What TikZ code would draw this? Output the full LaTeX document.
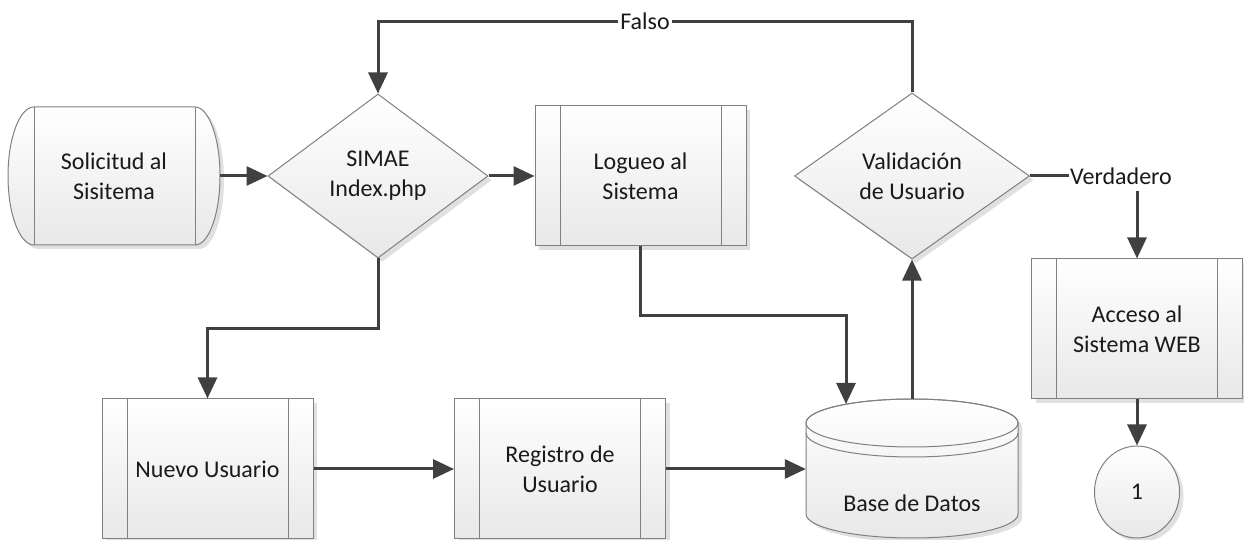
\documentclass[tikz,border=0pt]{standalone}
\usepackage{fontspec}
\setmainfont{Carlito}
\usetikzlibrary{arrows.meta,shapes.geometric,shadows}

\definecolor{linea}{HTML}{808080}
\definecolor{conector}{HTML}{404040}
\definecolor{texto}{HTML}{1A1A1A}

\begin{document}
\begin{tikzpicture}[x=1pt, y=1pt, >={Triangle[length=21pt,width=19pt]},
                    font=\fontsize{24}{30}\selectfont]
  \tikzstyle{figura}=[draw=linea, line width=1pt, top color=white, bottom color=black!9,
                      drop shadow={shadow xshift=4pt, shadow yshift=-4pt, fill=black!12, opacity=1},
                      text=texto, align=center, inner sep=0pt]
  \tikzstyle{proceso}=[figura, rectangle, minimum width=211pt, minimum height=140pt,
      path picture={\draw[linea, line width=1pt]
        ([xshift=25pt]path picture bounding box.north west) -- ([xshift=25pt]path picture bounding box.south west)
        ([xshift=-25pt]path picture bounding box.north east) -- ([xshift=-25pt]path picture bounding box.south east);}]
  \tikzstyle{decision}=[figura, diamond, aspect=1.35, minimum width=220pt, minimum height=164pt]
  \tikzstyle{flecha}=[->, color=conector, line width=3pt]
  \tikzstyle{etiqueta}=[fill=white, text=texto, inner xsep=2pt, inner ysep=2pt]

  \useasboundingbox (0,0) rectangle (1244,540);

  % terminal
  \draw[figura] (34,433) -- (195,433) arc[start angle=90, end angle=-90, x radius=25, y radius=69]
        -- (34,295) arc[start angle=270, end angle=90, x radius=26, y radius=69] -- cycle;
  \draw[linea, line width=1pt] (34,433) -- (34,295) (195,433) -- (195,295);
  \node[text=texto, align=center, minimum width=212pt, minimum height=138pt, inner sep=0pt]
        (sol) at (114,364) {Solicitud al\\Sisitema};

  % base de datos
  \draw[figura] (806,117) -- (806,26) arc[start angle=180, end angle=360, x radius=106, y radius=24]
        -- (1018,117) arc[start angle=0, end angle=180, x radius=106, y radius=24] -- cycle;
  \draw[linea, line width=1pt] (912,117) ellipse [x radius=106, y radius=24];
  \draw[linea, line width=1pt] (806,107) arc[start angle=180, end angle=360, x radius=106, y radius=24];
  \node[minimum width=212pt, minimum height=139pt, inner sep=0pt] (db) at (912,71.5) {};
  \node[text=texto] (dbtexto) at (912,37) {Base de Datos};
  \coordinate (dbin) at (846,136);

  \node[decision] (sim) at (378,364) {SIMAE\\Index.php};
  \node[proceso]  (log) at (640.5,364) {Logueo al\\Sistema};
  \node[decision, minimum width=235pt, minimum height=166pt] (val) at (912,364) {Validación\\de Usuario};
  \node[proceso]  (acc) at (1137,211) {Acceso al\\Sistema WEB};
  \node[figura, ellipse, minimum width=85pt, minimum height=92pt] (uno) at (1137,48) {1};
  \node[proceso]  (nue) at (207.5,71) {Nuevo Usuario};
  \node[proceso]  (reg) at (560,71) {Registro de\\Usuario};

  \path[flecha]
    (sol)       edge (sim)
    (sim)       edge (log)
    (nue)       edge (reg)
    (reg.east)  edge (reg.east -| db.west)
    (db.north)  edge (val)
    (acc)       edge (uno);

  \draw[flecha] (sim.south) -- ++(0,-70) -| (nue.north);
  \draw[flecha] (log.south) -- ++(0,-69) -| (dbin);
  \draw[flecha] (val.north) -- ++(0,71) -| node[etiqueta, pos=0.25] {Falso} (sim.north);
  \draw[flecha] (val.east) -| node[etiqueta, pos=0.5, xshift=-16pt, inner xsep=1pt, inner ysep=7pt] {Verdadero} (acc.north);

\end{tikzpicture}
\end{document}
